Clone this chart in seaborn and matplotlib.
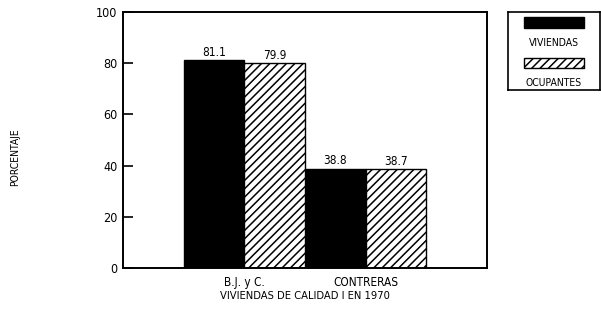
import matplotlib
matplotlib.use("Agg")
import matplotlib.pyplot as plt
import matplotlib.patches as mpatches
import seaborn as sns
import pandas as pd

# Data: quality-I housing in 1970, by delegation
categorias = ["B.J. y C.", "CONTRERAS"]
series = ["VIVIENDAS", "OCUPANTES"]
viviendas = [81.1, 38.8]
ocupantes = [79.9, 38.7]

df = pd.DataFrame({
    "delegacion": categorias * 2,
    "serie": [series[0]] * len(categorias) + [series[1]] * len(categorias),
    "porcentaje": viviendas + ocupantes,
})

sns.set_style("white")
plt.rcParams["font.family"] = ["DejaVu Sans"]
plt.rcParams["font.stretch"] = "condensed"
plt.rcParams["text.color"] = "black"
plt.rcParams["xtick.color"] = "black"
plt.rcParams["ytick.color"] = "black"
plt.rcParams["ytick.direction"] = "in"
plt.rcParams["hatch.linewidth"] = 1.1
plt.rcParams["hatch.color"] = "black"

fig = plt.figure(figsize=(6.01, 3.24), dpi=100)
ax = fig.add_axes([123 / 601, 1 - 268 / 324, (487 - 123) / 601, (268 - 12) / 324])

sns.barplot(data=df, x="delegacion", y="porcentaje", hue="serie",
            palette=["black", "white"], width=1.0, edgecolor="black",
            linewidth=1.0, saturation=1.0, legend=False, ax=ax)

# second series drawn as white bars with diagonal hatching
for cont, serie in zip(ax.containers, series):
    for bar in cont:
        if serie == "OCUPANTES":
            bar.set_hatch("////")
    ax.bar_label(cont, labels=[f"{v.get_height():.1f}" for v in cont],
                 padding=1, fontsize=8.5, color="black")

ax.set_xlim(-1, 2)
ax.set_ylim(0, 100)
ax.set_yticks([0, 20, 40, 60, 80, 100])
ax.tick_params(axis="y", direction="in", length=7, width=1.2, left=True,
               labelsize=9, pad=4, colors="black")
ax.tick_params(axis="x", length=0, labelsize=8.5, pad=6, colors="black")
ax.set_xlabel("")
ax.set_ylabel("")
for s in ax.spines.values():
    s.set_visible(True)
    s.set_color("black")
    s.set_linewidth(1.4)

fig.text(15 / 601, 1 - 157 / 324, "PORCENTAJE", rotation=90, ha="center",
         va="center", fontsize=7.5)
fig.text(305 / 601, 1 - 296 / 324, "VIVIENDAS DE CALIDAD I EN 1970",
         ha="center", va="center", fontsize=8)

# legend box with each swatch above its label
lax = fig.add_axes([508 / 601, 1 - 90 / 324, 92 / 601, 78 / 324])
lax.set_xlim(0, 1)
lax.set_ylim(0, 1)
lax.set_xticks([])
lax.set_yticks([])
for s in lax.spines.values():
    s.set_linewidth(1.2)
    s.set_color("black")
lax.add_patch(mpatches.Rectangle((0.17, 0.80), 0.66, 0.13, facecolor="black",
                                 edgecolor="black", lw=1))
lax.text(0.5, 0.60, series[0], ha="center", va="center", fontsize=7.5)
lax.add_patch(mpatches.Rectangle((0.17, 0.28), 0.66, 0.13, facecolor="white",
                                 edgecolor="black", lw=1, hatch="////"))
lax.text(0.5, 0.09, series[1], ha="center", va="center", fontsize=7.5)

fig.savefig("out.png", dpi=100)
